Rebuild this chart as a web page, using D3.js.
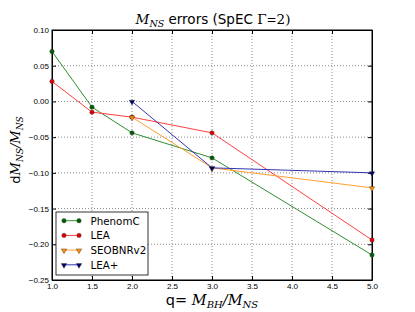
<!DOCTYPE html>
<html>
<head>
<meta charset="utf-8">
<script src="https://cdn.jsdelivr.net/npm/d3@7"></script>
<style>
body { margin: 0; background: #fff; }
svg { font-family: "DejaVu Sans", sans-serif; }
.axis text { font-size: 8px; fill: #000; }
.axis path, .axis line { stroke: #000; }
.grid line { stroke: #888; stroke-dasharray: 1,2; }
</style>
</head>
<body>
<svg id="chart" width="415" height="312"></svg>
<script>
// data
let qValues = [1.0, 1.5, 2.0, 3.0, 5.0];
let phenomC = [0.070, -0.008, -0.044, -0.079, -0.215];
let lea = [0.028, -0.015, -0.022, -0.044, -0.194];
let seobQ = [2.0, 3.0, 5.0];
let seob = [-0.022, -0.093, -0.121];
let leaPlusQ = [2.0, 3.0, 5.0];
let leaPlus = [0.000, -0.093, -0.100];
let xTicks = [1.0, 1.5, 2.0, 2.5, 3.0, 3.5, 4.0, 4.5, 5.0];
let yTicks = [0.10, 0.05, 0.00, -0.05, -0.10, -0.15, -0.20, -0.25];

let series = [
  {name: "PhenomC", q: qValues, v: phenomC, line: "#2f8f2f", mark: "#005f00", shape: "circle"},
  {name: "LEA", q: qValues, v: lea, line: "#ff4040", mark: "#e00000", shape: "circle"},
  {name: "SEOBNRv2", q: seobQ, v: seob, line: "#ffa030", mark: "#ff8c00", shape: "tri"},
  {name: "LEA+", q: leaPlusQ, v: leaPlus, line: "#3434b4", mark: "#00006a", shape: "tri"}
];

let chart = d3.select("#chart");
let pLeft = 52, pRight = 372, pTop = 30, pBottom = 280;

let x = d3.scaleLinear().domain([1, 5]).range([pLeft, pRight]);
let y = d3.scaleLinear().domain([-0.25, 0.10]).range([pBottom, pTop]);

// grid
chart.append("g").attr("class", "grid")
  .selectAll("line").data(xTicks.slice(1, -1)).enter().append("line")
  .attr("x1", d => x(d)).attr("x2", d => x(d))
  .attr("y1", pTop).attr("y2", pBottom);
chart.append("g").attr("class", "grid")
  .selectAll("line").data(yTicks.slice(1, -1)).enter().append("line")
  .attr("y1", d => y(d)).attr("y2", d => y(d))
  .attr("x1", pLeft).attr("x2", pRight);

// axes
let fmtX = d3.format(".1f"), fmtY = d => d3.format(".2f")(d).replace("-", "\u2212");
chart.append("g").attr("class", "axis")
  .attr("transform", "translate(0," + pBottom + ")")
  .call(d3.axisBottom(x).tickValues(xTicks).tickFormat(fmtX).tickSizeInner(-4).tickSizeOuter(0).tickPadding(3));
chart.append("g").attr("class", "axis")
  .attr("transform", "translate(0," + pTop + ")")
  .call(d3.axisTop(x).tickValues(xTicks).tickFormat("").tickSizeInner(-4).tickSizeOuter(0));
chart.append("g").attr("class", "axis")
  .attr("transform", "translate(" + pLeft + ",0)")
  .call(d3.axisLeft(y).tickValues(yTicks).tickFormat(fmtY).tickSizeInner(-4).tickSizeOuter(0).tickPadding(3));
chart.append("g").attr("class", "axis")
  .attr("transform", "translate(" + pRight + ",0)")
  .call(d3.axisRight(y).tickValues(yTicks).tickFormat("").tickSizeInner(-4).tickSizeOuter(0));

chart.append("rect")
  .attr("x", pLeft).attr("y", pTop)
  .attr("width", pRight - pLeft).attr("height", pBottom - pTop)
  .attr("fill", "none").attr("stroke", "#000").attr("stroke-width", 1);

// lines and markers
let line = d3.line().x(d => x(d[0])).y(d => y(d[1]));
let tri = d3.symbol().type(d3.symbolTriangle).size(13);

series.forEach(function(s) {
  let pts = s.q.map((q, i) => [q, s.v[i]]);
  chart.append("path")
    .datum(pts)
    .attr("d", line)
    .attr("fill", "none")
    .attr("stroke", s.line)
    .attr("stroke-width", 1);
  let g = chart.append("g");
  if (s.shape == "circle") {
    g.selectAll("circle").data(pts).enter().append("circle")
      .attr("cx", d => x(d[0])).attr("cy", d => y(d[1]))
      .attr("r", 2.2).attr("fill", s.mark)
      .attr("stroke", "#333").attr("stroke-width", 0.4);
  } else {
    g.selectAll("path").data(pts).enter().append("path")
      .attr("d", tri)
      .attr("transform", d => "translate(" + x(d[0]) + "," + (y(d[1]) + 0.4) + ") rotate(180)")
      .attr("fill", s.mark)
      .attr("stroke", "#333").attr("stroke-width", 0.4);
  }
});

// legend
let lg = chart.append("g");
lg.append("rect")
  .attr("x", 56).attr("y", 212).attr("width", 92).attr("height", 63)
  .attr("fill", "#fff").attr("stroke", "#000").attr("stroke-width", 0.8);
series.forEach(function(s, i) {
  let ly = 220.7 + i * 14.7;
  lg.append("line")
    .attr("x1", 64).attr("x2", 79).attr("y1", ly).attr("y2", ly)
    .attr("stroke", s.line).attr("stroke-width", 1);
  [64, 79].forEach(function(px) {
    if (s.shape == "circle") {
      lg.append("circle").attr("cx", px).attr("cy", ly).attr("r", 2.2)
        .attr("fill", s.mark).attr("stroke", "#333").attr("stroke-width", 0.4);
    } else {
      lg.append("path").attr("d", tri)
        .attr("transform", "translate(" + px + "," + (ly + 0.4) + ") rotate(180)")
        .attr("fill", s.mark).attr("stroke", "#333").attr("stroke-width", 0.4);
    }
  });
  lg.append("text")
    .text(s.name)
    .attr("x", 90.5).attr("y", ly)
    .attr("dominant-baseline", "central")
    .style("font-size", "10.3px");
});

// title
let title = chart.append("text")
  .attr("x", 213).attr("y", 24)
  .attr("text-anchor", "middle")
  .style("font-size", "13.5px");
title.append("tspan").text("M").style("font-family", "DejaVu Serif").style("font-style", "italic");
title.append("tspan").text("NS").attr("dy", 3).style("font-size", "9.5px")
  .style("font-family", "DejaVu Serif").style("font-style", "italic");
title.append("tspan").text(" errors (SpEC ").attr("dy", -3);
title.append("tspan").text("\u0393").style("font-family", "DejaVu Serif");
title.append("tspan").text("=").style("font-family", "DejaVu Serif").style("font-size", "12px");
title.append("tspan").text("2)").style("font-family", "DejaVu Serif");

// x label
let xl = chart.append("text")
  .attr("x", 212).attr("y", 305)
  .attr("text-anchor", "middle")
  .style("font-size", "14.5px");
xl.append("tspan").text("q= ");
xl.append("tspan").text("M").style("font-family", "DejaVu Serif").style("font-style", "italic");
xl.append("tspan").text("BH").attr("dy", 3).style("font-size", "10px")
  .style("font-family", "DejaVu Serif").style("font-style", "italic");
xl.append("tspan").text("/").attr("dy", -3).style("font-family", "DejaVu Serif").style("font-style", "italic");
xl.append("tspan").text("M").style("font-family", "DejaVu Serif").style("font-style", "italic");
xl.append("tspan").text("NS").attr("dy", 3).style("font-size", "10px")
  .style("font-family", "DejaVu Serif").style("font-style", "italic");

// y label
let yl = chart.append("text")
  .attr("transform", "translate(20,150) rotate(-90)")
  .attr("text-anchor", "middle")
  .style("font-size", "13px")
  .style("font-family", "DejaVu Serif");
yl.append("tspan").text("d").style("font-family", "DejaVu Sans");
yl.append("tspan").text("M").style("font-style", "italic");
yl.append("tspan").text("NS").attr("dy", 3).style("font-size", "9px").style("font-style", "italic");
yl.append("tspan").text("/").attr("dy", -3).style("font-style", "italic");
yl.append("tspan").text("M").style("font-style", "italic");
yl.append("tspan").text("NS").attr("dy", 3).style("font-size", "9px").style("font-style", "italic");
</script>
</body>
</html>
